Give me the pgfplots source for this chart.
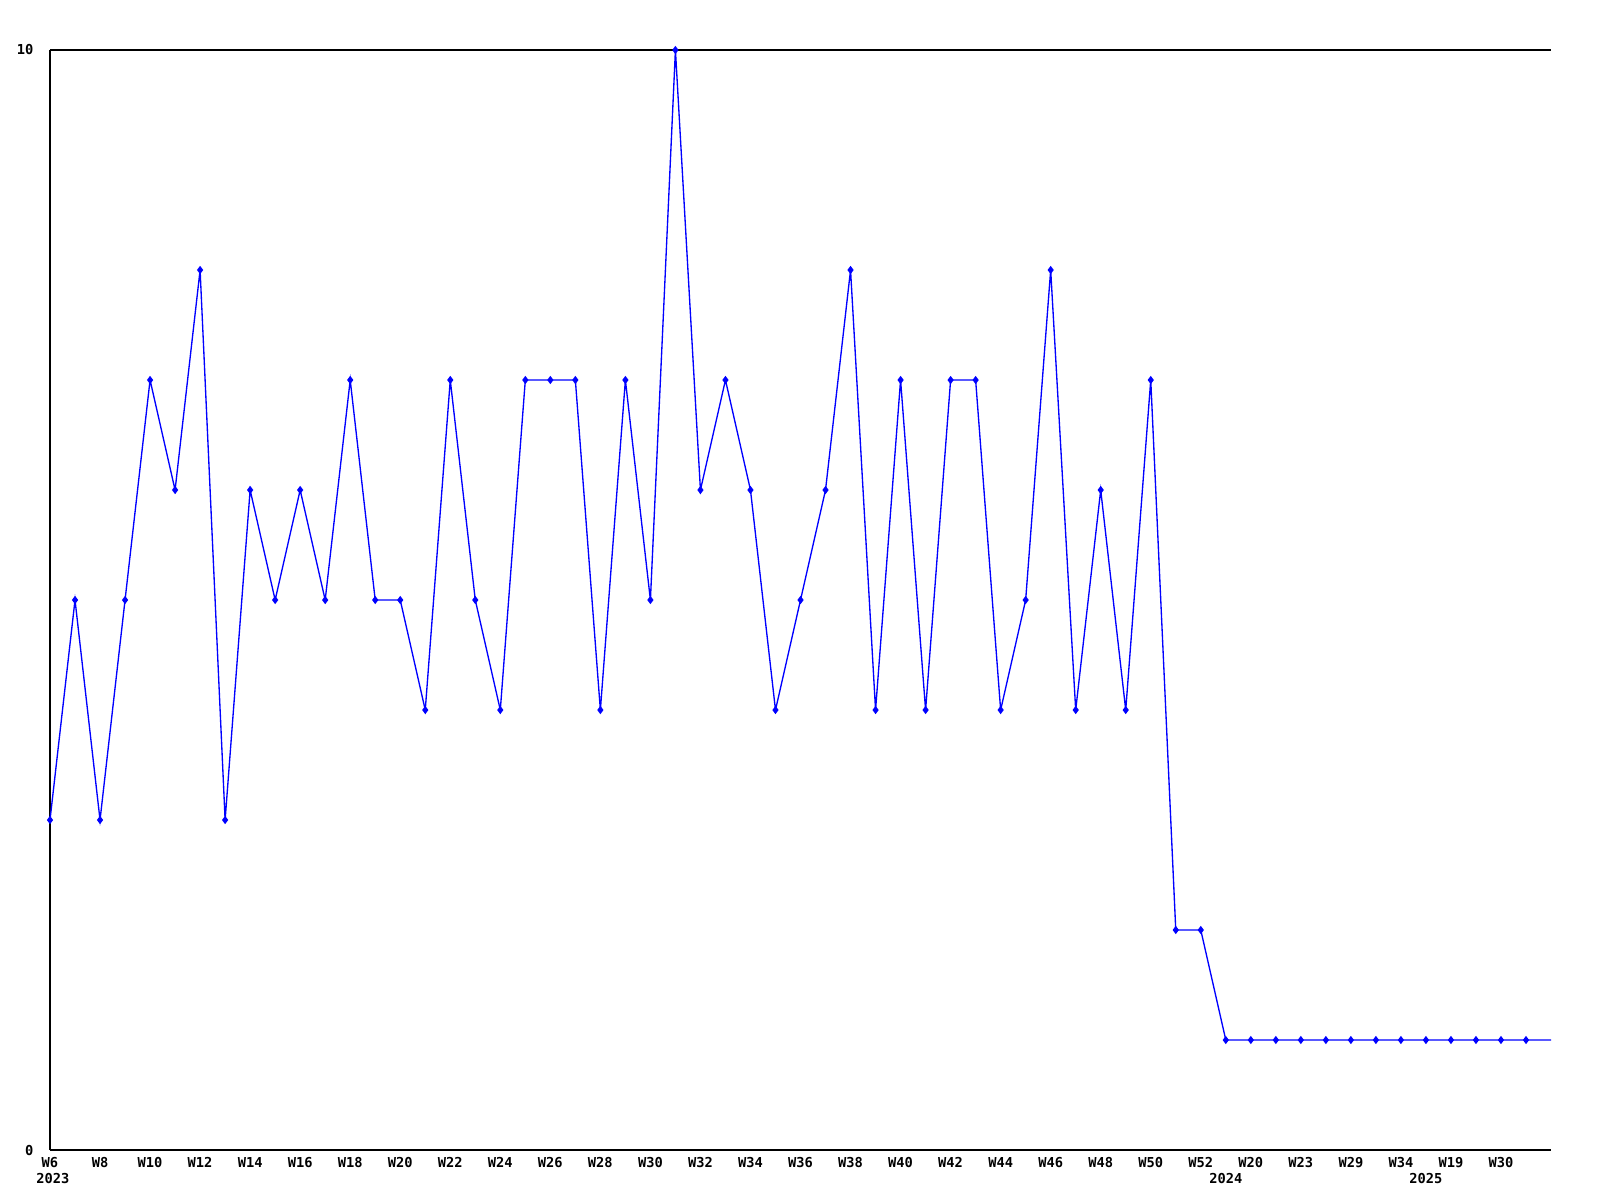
\documentclass[border=0pt]{standalone}
\usepackage{pgfplots}
\pgfplotsset{compat=1.18}
\usepackage{fontspec}
\setmonofont{DejaVu Sans Mono}
\newcommand{\lbl}{\fontsize{3.9pt}{4.5pt}\selectfont\ttfamily\bfseries}
\pgfplotstableread{
x y
0 3
1 5
2 3
3 5
4 7
5 6
6 8
7 3
8 6
9 5
10 6
11 5
12 7
13 5
14 5
15 4
16 7
17 5
18 4
19 7
20 7
21 7
22 4
23 7
24 5
25 10
26 6
27 7
28 6
29 4
30 5
31 6
32 8
33 4
34 7
35 4
36 7
37 7
38 4
39 5
40 8
41 4
42 6
43 4
44 7
45 2
46 2
47 1
48 1
49 1
50 1
51 1
52 1
53 1
54 1
55 1
56 1
57 1
58 1
59 1
60 1
}\datatable
\begin{document}
\begin{tikzpicture}
\path[use as bounding box] (-0.5cm,-0.5cm) rectangle (15.5cm,11.5cm);
\begin{axis}[
  at={(0,0)}, anchor=south west,
  scale only axis, width=15.01cm, height=11cm,
  xmin=0, xmax=60, ymin=0, ymax=10,
  axis lines=left, axis line style={-, black, line width=0.5pt},
  clip=false,
  /pgf/number format/assume math mode=true,
  xtick={0,2,...,58},
  xticklabels={W6,W8,W10,W12,W14,W16,W18,W20,W22,W24,W26,W28,W30,W32,W34,W36,W38,W40,W42,W44,W46,W48,W50,W52,W20,W23,W29,W34,W19,W30},
  ytick={0,10},
  yticklabels={0,10},
  major tick length=0pt,
  tick label style={font=\lbl, inner sep=0pt},
  xticklabel style={anchor=north, yshift=-0.07cm},
  yticklabel style={anchor=east, xshift=-0.16cm},
  extra x ticks={0.12,47,55},
  extra x tick labels={2023,2024,2025},
  extra x tick style={major tick length=0pt, xticklabel style={yshift=-0.16cm}},
]
\draw[black, line width=0.5pt] (rel axis cs:0,1) -- (rel axis cs:1,1);
\addplot[blue, line width=0.38pt, mark=none] table[x=x,y=y] {\datatable};
\addplot[blue, only marks, mark=diamond*, mark size=0.85pt, mark options={fill=blue}] table[x=x,y=y, restrict x to domain=0:59] {\datatable};
\end{axis}
\end{tikzpicture}
\end{document}
